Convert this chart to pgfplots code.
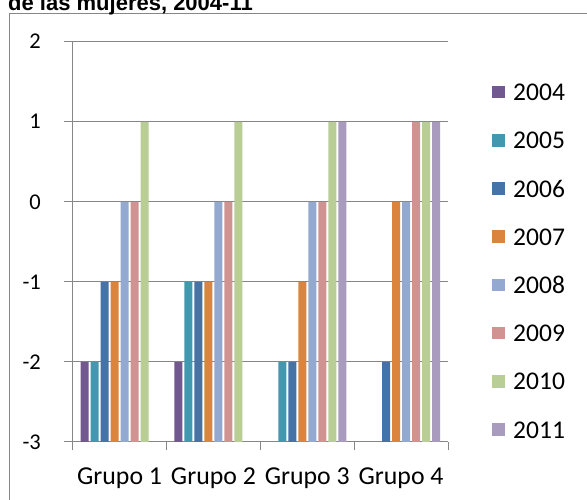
\documentclass[border=0pt]{standalone}
\usepackage{fontspec}
\setmainfont{Carlito}
\newfontfamily\titlefont{Liberation Sans}
\usepackage{pgfplots}
\pgfplotsset{compat=1.18}

\definecolor{c04}{HTML}{71588F}
\definecolor{c05}{HTML}{4198AF}
\definecolor{c06}{HTML}{4572A7}
\definecolor{c07}{HTML}{DB843D}
\definecolor{c08}{HTML}{93A9CF}
\definecolor{c09}{HTML}{D19392}
\definecolor{c10}{HTML}{B9CD96}
\definecolor{c11}{HTML}{A99BBD}
\definecolor{axisgray}{HTML}{868686}

\begin{document}
\begin{tikzpicture}
\useasboundingbox (0pt,0pt) rectangle (587pt,500pt);
\clip (0pt,0pt) rectangle (587pt,500pt);
% chart area border (cut at right and bottom)
\draw[axisgray, line width=1pt] (9.5pt,-20pt) -- (9.5pt,486.5pt) -- (620pt,486.5pt);
% title, only its lower half is in the picture
\node[anchor=base west, inner sep=0pt, font=\titlefont\bfseries\fontsize{22}{22}\selectfont]
  at (8pt,489.5pt) {de las mujeres, 2004-11};

\begin{axis}[
    at={(72.7pt,58pt)}, anchor=south west,
    scale only axis, width=375.3pt, height=400.3pt,
    ybar=2pt, bar width=8pt,
    xmin=-0.5, xmax=3.5, ymin=0, ymax=5,
    axis x line*=bottom, axis y line*=left,
    axis line style={axisgray, line width=1pt},
    tick align=outside,
    xtick={0,1,2,3},
    xticklabels={Grupo 1,Grupo 2,Grupo 3,Grupo 4},
    major x tick style={draw=none},
    minor xtick={-0.5,0.5,1.5,2.5,3.5},
    minor x tick style={axisgray, line width=1pt},
    minor tick length=8.3pt,
    ytick={0,1,2,3,4,5},
    yticklabels={-3,-2,-1,0,1,2},
    major y tick style={axisgray, line width=1pt},
    major tick length=8.7pt,
    ymajorgrids,
    major grid style={axisgray, line width=1pt},
    yticklabel style={anchor=east, inner sep=0pt, xshift=-23pt,
      font=\fontsize{22.5}{22.5}\selectfont},
    xticklabel style={anchor=base, inner sep=0pt, yshift=-34pt,
      font=\fontsize{25.8}{25.8}\selectfont},
    legend cell align=left,
    legend style={at={(1.1173,0.8956)}, anchor=north west, draw=none, fill=none,
      inner sep=0pt, row sep=31.2pt, column sep=8.4pt,
      font=\fontsize{25.5}{25.5}\selectfont,
      nodes={inner sep=0pt, text height=17pt, text depth=0pt}},
    legend image code/.code={\fill[#1] (0pt,-6.3pt) rectangle (12.6pt,6.3pt);},
]
% values as read (baseline of the bars is -3)
\addplot[fill=c04, draw=none] table[y expr=\thisrow{v}+3] {
x v
0 -2
1 -2
};
\addlegendentry{2004}
\addplot[fill=c05, draw=none] table[y expr=\thisrow{v}+3] {
x v
0 -2
1 -1
2 -2
};
\addlegendentry{2005}
\addplot[fill=c06, draw=none] table[y expr=\thisrow{v}+3] {
x v
0 -1
1 -1
2 -2
3 -2
};
\addlegendentry{2006}
\addplot[fill=c07, draw=none] table[y expr=\thisrow{v}+3] {
x v
0 -1
1 -1
2 -1
3 0
};
\addlegendentry{2007}
\addplot[fill=c08, draw=none] table[y expr=\thisrow{v}+3] {
x v
0 0
1 0
2 0
3 0
};
\addlegendentry{2008}
\addplot[fill=c09, draw=none] table[y expr=\thisrow{v}+3] {
x v
0 0
1 0
2 0
3 1
};
\addlegendentry{2009}
\addplot[fill=c10, draw=none] table[y expr=\thisrow{v}+3] {
x v
0 1
1 1
2 1
3 1
};
\addlegendentry{2010}
\addplot[fill=c11, draw=none] table[y expr=\thisrow{v}+3] {
x v
2 1
3 1
};
\addlegendentry{2011}
\end{axis}
\end{tikzpicture}
\end{document}
